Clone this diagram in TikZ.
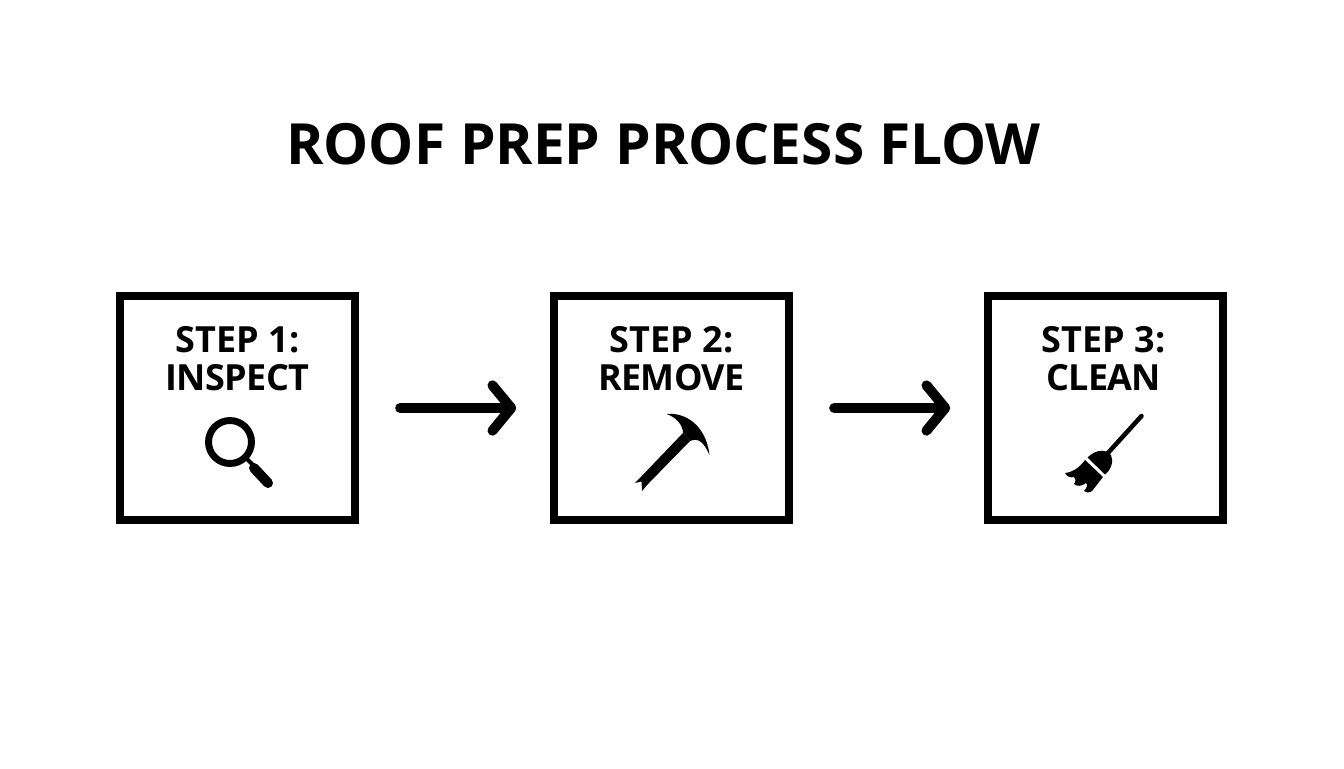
\documentclass[tikz,border=0pt]{standalone}
\usepackage{fontspec}
\setmainfont{Open Sans}
\usetikzlibrary{arrows.meta}
\newcommand{\tightline}[1]{{\addfontfeature{LetterSpace=-1.8}#1}}
\tikzset{
  stepbox/.style={draw=black,fill=white,line width=6pt,minimum width=176pt,minimum height=168pt,inner sep=0pt,outer sep=3pt},
  steptext/.style={align=center,font=\fontsize{27}{28.5}\selectfont\bfseries,text=black,inner sep=0pt},
  titletext/.style={font=\fontsize{42.6}{50}\selectfont\bfseries,text=black,inner sep=0pt},
  flow/.style={line width=7.5pt,line cap=round,draw=black,shorten <=31pt,shorten >=25.5pt,
    -{Straight Barb[round,length=14pt,width=34pt,line width=7.5pt]}},
  iconline/.style={draw=black,line cap=round},
  iconfill/.style={fill=black,draw=none}
}
\begin{document}
\begin{tikzpicture}[x=.75pt,y=-.75pt]
\useasboundingbox[fill=white] (0,0) rectangle (1344,768);
\node[titletext] (title) at (663.5,144) {ROOF PREP PROCESS FLOW};
\node[stepbox] (b1) at (237.5,408) {};
\node[stepbox] (b2) at (671.5,408) {};
\node[stepbox] (b3) at (1105.5,408) {};
\node[steptext] (t1) at (237.5,359) {STEP 1:\\\tightline{INSPECT}};
\node[steptext] (t2) at (671.5,359) {STEP 2:\\\tightline{REMOVE}};
\node[steptext] (t3) at (1103.5,359) {STEP 3:\\\tightline{CLEAN}};
\draw[flow] (b1) -- (b2);
\draw[flow] (b2) -- (b3);
% magnifier
\draw[black,line width=5.2pt] (230,442) circle (21.5);
\draw[iconline,line width=3pt] (247,459) -- (254,466);
\draw[iconline,line width=7.5pt] (254,468) -- (268,483);
% hammer
\fill[iconfill] (635,483) -- (641.5,481.5) -- (642,491) -- (648,484) -- (690,441) -- (683,433) -- cycle;
\fill[iconfill] (666.5,414) .. controls (685,412) and (706,425) .. (709.5,455)
  .. controls (703,440) and (697,438) .. (690,441) -- (683,433)
  .. controls (683,425) and (676,417) .. (666.5,414) -- cycle;
% broom
\draw[iconline,line width=3.4pt] (1141.5,416) -- (1107,454);
\fill[iconfill] (1087.5,457.5) .. controls (1096,449) and (1106,449) .. (1111,455)
  .. controls (1114,461) and (1111,470) .. (1105,474.5) -- cycle;
\fill[iconfill] (1085,460) -- (1103,477) -- (1092,491) .. controls (1089,493) and (1086,493) .. (1084,491)
  .. controls (1087,488) and (1088,484) .. (1086,483) .. controls (1082,486) and (1077,487) .. (1074,484)
  .. controls (1076,481) and (1076,478) .. (1074,477) .. controls (1071,478) and (1067,477) .. (1065,473)
  .. controls (1073,472) and (1079,468) .. (1085,460) -- cycle;
\end{tikzpicture}
\end{document}
